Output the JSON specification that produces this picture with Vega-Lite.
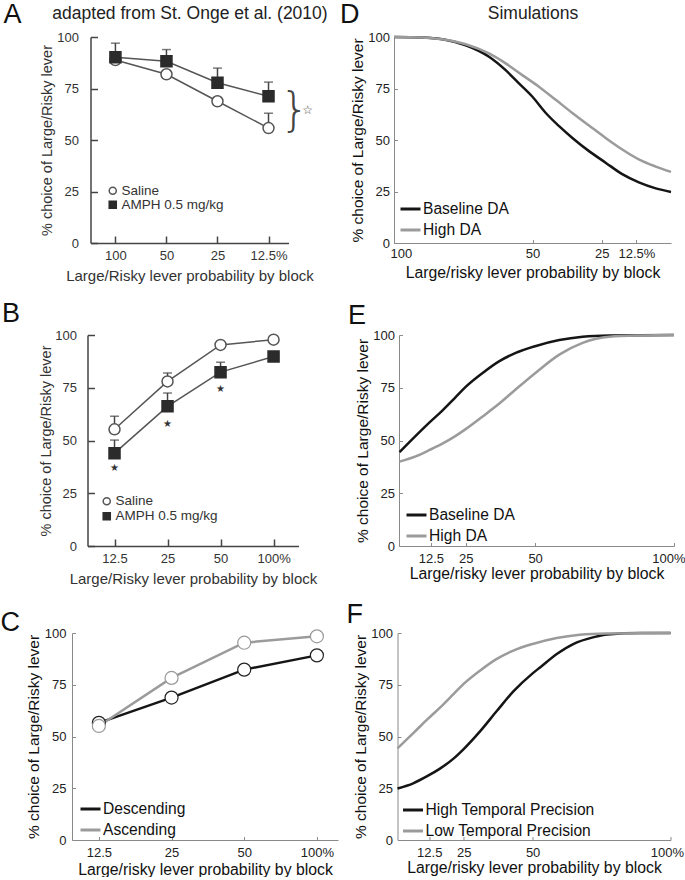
{
"$schema":"https://vega.github.io/schema/vega-lite/v6.json",
"background":"white",
"padding":{"left":0,"top":0,"right":0,"bottom":0},
"config":{"view":{"stroke":null},"font":"Liberation Sans",
 "axis":{"grid":false,"titleFontWeight":"normal","labelFont":"Liberation Sans","titleFont":"Liberation Sans","labelOverlap":false},
 "legend":{"labelFont":"Liberation Sans","labelLimit":300},
 "title":{"font":"Liberation Sans","fontWeight":"normal","color":"#111","anchor":"start","frame":"group","fontSize":27}},
"datasets":{
 "a":[
  {"block":"100","group":"Saline","value":88.8,"err":null},
  {"block":"50","group":"Saline","value":81.9,"err":null},
  {"block":"25","group":"Saline","value":68.8,"err":null},
  {"block":"12.5%","group":"Saline","value":55.8,"err":63},
  {"block":"100","group":"AMPH 0.5 mg/kg","value":90.2,"err":97},
  {"block":"50","group":"AMPH 0.5 mg/kg","value":88.2,"err":93.9},
  {"block":"25","group":"AMPH 0.5 mg/kg","value":77.8,"err":84.9},
  {"block":"12.5%","group":"AMPH 0.5 mg/kg","value":71.2,"err":78.1}
 ],
 "b":[
  {"block":"12.5","group":"Saline","value":55.3,"err":61.5},
  {"block":"25","group":"Saline","value":78,"err":82},
  {"block":"50","group":"Saline","value":95.3,"err":null},
  {"block":"100%","group":"Saline","value":97.8,"err":null},
  {"block":"12.5","group":"AMPH 0.5 mg/kg","value":44,"err":50.2},
  {"block":"25","group":"AMPH 0.5 mg/kg","value":66.2,"err":72.5},
  {"block":"50","group":"AMPH 0.5 mg/kg","value":82.4,"err":87.1},
  {"block":"100%","group":"AMPH 0.5 mg/kg","value":89.8,"err":null}
 ],
 "bstars":[
  {"block":"12.5","value":37},
  {"block":"25","value":58},
  {"block":"50","value":74.5}
 ],
 "c":[
  {"block":"12.5","series":"Descending","value":56.6},
  {"block":"25","series":"Descending","value":68.8},
  {"block":"50","series":"Descending","value":82.3},
  {"block":"100%","series":"Descending","value":89.2},
  {"block":"12.5","series":"Ascending","value":55.1},
  {"block":"25","series":"Ascending","value":78.3},
  {"block":"50","series":"Ascending","value":95.3},
  {"block":"100%","series":"Ascending","value":98.4}
 ],
 "d":[
  {"series":"Baseline DA","p":100,"val":100},{"series":"Baseline DA","p":90,"val":99.8},{"series":"Baseline DA","p":82,"val":98.8},{"series":"Baseline DA","p":74.1,"val":96},{"series":"Baseline DA","p":65.7,"val":90.4},{"series":"Baseline DA","p":59.7,"val":83.9},{"series":"Baseline DA","p":54.9,"val":77.5},{"series":"Baseline DA","p":50.1,"val":71.1},{"series":"Baseline DA","p":45.2,"val":63.1},{"series":"Baseline DA","p":40.4,"val":56.7},{"series":"Baseline DA","p":35.6,"val":51},{"series":"Baseline DA","p":29.6,"val":44.6},{"series":"Baseline DA","p":23.6,"val":39},{"series":"Baseline DA","p":17.6,"val":33.4},{"series":"Baseline DA","p":11.6,"val":29.4},{"series":"Baseline DA","p":5.5,"val":26.5},{"series":"Baseline DA","p":0,"val":24.8},
  {"series":"High DA","p":100,"val":100},{"series":"High DA","p":90,"val":99.8},{"series":"High DA","p":82,"val":98.8},{"series":"High DA","p":74.1,"val":96.5},{"series":"High DA","p":65.7,"val":92},{"series":"High DA","p":59.7,"val":87.2},{"series":"High DA","p":53.7,"val":81.5},{"series":"High DA","p":47.7,"val":75.9},{"series":"High DA","p":41.6,"val":69.5},{"series":"High DA","p":35.6,"val":63.1},{"series":"High DA","p":29.6,"val":57},{"series":"High DA","p":23.6,"val":51},{"series":"High DA","p":17.6,"val":45.4},{"series":"High DA","p":11.6,"val":40.6},{"series":"High DA","p":5.5,"val":37.1},{"series":"High DA","p":0,"val":34.5}
 ],
 "e":[
  {"series":"Baseline DA","p":1.2,"val":44.5},{"series":"Baseline DA","p":7,"val":52.2},{"series":"Baseline DA","p":12,"val":58.6},{"series":"Baseline DA","p":16.6,"val":64.2},{"series":"Baseline DA","p":21.4,"val":70.6},{"series":"Baseline DA","p":25,"val":75.4},{"series":"Baseline DA","p":31,"val":81.9},{"series":"Baseline DA","p":37,"val":87.5},{"series":"Baseline DA","p":43,"val":91.5},{"series":"Baseline DA","p":50,"val":94.7},{"series":"Baseline DA","p":58.7,"val":97.6},{"series":"Baseline DA","p":67.1,"val":99.2},{"series":"Baseline DA","p":76.7,"val":99.8},{"series":"Baseline DA","p":100,"val":100},
  {"series":"High DA","p":1.2,"val":40},{"series":"High DA","p":7,"val":42.5},{"series":"High DA","p":12,"val":45.5},{"series":"High DA","p":16.6,"val":48.5},{"series":"High DA","p":21.4,"val":52.2},{"series":"High DA","p":25,"val":55.4},{"series":"High DA","p":31,"val":61.3},{"series":"High DA","p":37,"val":67.4},{"series":"High DA","p":43,"val":74.2},{"series":"High DA","p":50,"val":81.9},{"series":"High DA","p":58.7,"val":90.7},{"series":"High DA","p":67.1,"val":96.3},{"series":"High DA","p":76.7,"val":99.2},{"series":"High DA","p":88.7,"val":99.8},{"series":"High DA","p":100,"val":100}
 ],
 "f":[
  {"series":"High Temporal Precision","p":1,"val":24.9},{"series":"High Temporal Precision","p":6.7,"val":27.4},{"series":"High Temporal Precision","p":11.6,"val":30.7},{"series":"High Temporal Precision","p":16.4,"val":34.5},{"series":"High Temporal Precision","p":21.3,"val":39.3},{"series":"High Temporal Precision","p":24.9,"val":43.8},{"series":"High Temporal Precision","p":31,"val":52.6},{"series":"High Temporal Precision","p":37,"val":62.3},{"series":"High Temporal Precision","p":43.1,"val":71.9},{"series":"High Temporal Precision","p":50,"val":80.5},{"series":"High Temporal Precision","p":52.8,"val":83.5},{"series":"High Temporal Precision","p":58.9,"val":90},{"series":"High Temporal Precision","p":64.9,"val":94.8},{"series":"High Temporal Precision","p":72.2,"val":98},{"series":"High Temporal Precision","p":77,"val":99.3},{"series":"High Temporal Precision","p":89.2,"val":100},{"series":"High Temporal Precision","p":100,"val":100},
  {"series":"Low Temporal Precision","p":1,"val":44.3},{"series":"Low Temporal Precision","p":7,"val":52},{"series":"Low Temporal Precision","p":12,"val":58.5},{"series":"Low Temporal Precision","p":16.6,"val":64.2},{"series":"Low Temporal Precision","p":21.4,"val":70.6},{"series":"Low Temporal Precision","p":25,"val":75.4},{"series":"Low Temporal Precision","p":31,"val":81.9},{"series":"Low Temporal Precision","p":37,"val":87.5},{"series":"Low Temporal Precision","p":43,"val":91.5},{"series":"Low Temporal Precision","p":50,"val":94.7},{"series":"Low Temporal Precision","p":58.7,"val":97.6},{"series":"Low Temporal Precision","p":67.1,"val":99.2},{"series":"Low Temporal Precision","p":76.7,"val":99.8},{"series":"Low Temporal Precision","p":100,"val":100}
 ]
},
"columns":1,
"spacing":15,
"resolve":{"scale":{"color":"independent","shape":"independent","fill":"independent","stroke":"independent"},"legend":{"color":"independent","shape":"independent","fill":"independent","stroke":"independent"}},
"concat":[
 {"hconcat":[
  {"width":216.5,"height":206,
   "title":{"text":"A","dx":-68.5,"offset":-24.5},
   "data":{"name":"a"},
   "layer":[
    {"transform":[{"filter":"datum.err != null"}],
     "mark":{"type":"rule","color":"#444","strokeWidth":1.5},
     "encoding":{
      "x":{"field":"block","type":"ordinal","scale":{"type":"point","domain":["100","50","25","12.5%"],"range":[18.5,216.5],"padding":0.44,"align":0.555},"axis":null},
      "y":{"field":"value","type":"quantitative","scale":{"domain":[0,100]},"axis":null},
      "y2":{"field":"err"}}},
    {"transform":[{"filter":"datum.err != null"}],
     "mark":{"type":"tick","orient":"horizontal","color":"#444","thickness":1.5,"size":9},
     "encoding":{
      "x":{"field":"block","type":"ordinal","scale":{"type":"point","domain":["100","50","25","12.5%"],"range":[18.5,216.5],"padding":0.44,"align":0.555},"axis":null},
      "y":{"field":"err","type":"quantitative","scale":{"domain":[0,100]},"axis":null}}},
    {"mark":{"type":"line","color":"#555","strokeWidth":1.5},
     "encoding":{
      "x":{"field":"block","type":"ordinal","scale":{"type":"point","domain":["100","50","25","12.5%"],"range":[18.5,216.5],"padding":0.44,"align":0.555},
       "axis":{"orient":"bottom","title":"Large/Risky lever probability by block","titleFontSize":15,"titleColor":"#333","labelFontSize":13,"labelColor":"#333","labelAngle":0,"domainColor":"#444","domainWidth":1.5,"tickColor":"#444","tickWidth":1.5,"tickSize":-7,"labelPadding":13,"titlePadding":6.5}},
      "y":{"field":"value","type":"quantitative","scale":{"domain":[0,100]},
       "axis":{"offset":-18.5,"values":[0,25,50,75,100],"title":"% choice of Large/Risky lever","titleFontSize":14.5,"titleColor":"#333","labelFontSize":13,"labelColor":"#333","domainColor":"#444","domainWidth":1.5,"tickColor":"#444","tickWidth":1.5,"tickSize":-7,"labelPadding":19,"titlePadding":2}},
      "detail":{"field":"group"}}},
    {"mark":{"type":"point","size":121,"strokeWidth":1.5,"opacity":1},
     "encoding":{
      "x":{"field":"block","type":"ordinal","scale":{"type":"point","domain":["100","50","25","12.5%"],"range":[18.5,216.5],"padding":0.44,"align":0.555},
       "axis":{"orient":"top","title":"adapted from St. Onge et al. (2010)","titleFontSize":17.5,"titleColor":"#222","labels":false,"ticks":false,"domain":false,"labelPadding":0,"titlePadding":15}},
      "y":{"field":"value","type":"quantitative","scale":{"domain":[0,100]},"axis":null},
      "shape":{"field":"group","type":"nominal","scale":{"domain":["Saline","AMPH 0.5 mg/kg"],"range":["circle","square"]},"legend":{"orient":"none","legendX":34,"legendY":147,"title":null,"labelFontSize":13.5,"labelColor":"#333","symbolSize":50,"rowPadding":-3,"labelOffset":2,"padding":0}},
      "fill":{"field":"group","type":"nominal","scale":{"domain":["Saline","AMPH 0.5 mg/kg"],"range":["white","#2b2b2b"]},"legend":{"orient":"none","legendX":34,"legendY":147,"title":null,"labelFontSize":13.5,"labelColor":"#333","symbolSize":50,"rowPadding":-3,"labelOffset":2,"padding":0}},
      "stroke":{"field":"group","type":"nominal","scale":{"domain":["Saline","AMPH 0.5 mg/kg"],"range":["#555","#2b2b2b"]},"legend":{"orient":"none","legendX":34,"legendY":147,"title":null,"labelFontSize":13.5,"labelColor":"#333","symbolSize":50,"rowPadding":-3,"labelOffset":2,"padding":0}}}},
    {"data":{"values":[{"block":"12.5%","value":64,"sym":"}"}]},
     "mark":{"type":"text","dx":26,"fontSize":46,"fontWeight":200,"fill":"#444","baseline":"middle","align":"center","font":"DejaVu Sans"},
     "encoding":{
      "x":{"field":"block","type":"ordinal","scale":{"type":"point","domain":["100","50","25","12.5%"],"range":[18.5,216.5],"padding":0.44,"align":0.555},"axis":null},
      "y":{"field":"value","type":"quantitative","scale":{"domain":[0,100]},"axis":null},
      "text":{"field":"sym"}}},
    {"data":{"values":[{"block":"12.5%","value":64.5,"sym":"☆"}]},
     "mark":{"type":"text","dx":39,"fontSize":12,"fill":"#444","baseline":"middle","align":"center","font":"DejaVu Sans"},
     "encoding":{
      "x":{"field":"block","type":"ordinal","scale":{"type":"point","domain":["100","50","25","12.5%"],"range":[18.5,216.5],"padding":0.44,"align":0.555},"axis":null},
      "y":{"field":"value","type":"quantitative","scale":{"domain":[0,100]},"axis":null},
      "text":{"field":"sym"}}}
   ],
   "resolve":{"axis":{"x":"independent","y":"independent"}}},
  {"width":277,"height":206,
   "title":{"text":"D","dx":-54,"offset":-25},
   "data":{"name":"d"},
   "layer":[
    {"mark":{"type":"line","strokeWidth":2.5,"interpolate":"monotone"},
     "encoding":{
      "x":{"field":"p","type":"quantitative","scale":{"domain":[0,100],"reverse":true,"nice":false,"zero":false},
       "axis":{"orient":"bottom","values":[100,50,25,12.5],"labelExpr":"datum.value == 12.5 ? '12.5%' : '' + datum.value","title":"Large/risky lever probability by block","titleFontSize":15.8,"titleColor":"#111","labelFontSize":13,"labelColor":"#222","domainColor":"#8a8a8a","tickColor":"#8a8a8a","tickSize":-3.5,"labelPadding":8,"titlePadding":5,"labelFlush":true,"labelFlushOffset":4}},
      "y":{"field":"val","type":"quantitative","scale":{"domain":[0,100]},
       "axis":{"values":[0,25,50,75,100],"title":"% choice of Large/Risky lever","titleFontSize":15.5,"titleColor":"#111","labelFontSize":13,"labelColor":"#222","domainColor":"#8a8a8a","tickColor":"#8a8a8a","tickSize":-3.5,"labelPadding":8,"titlePadding":2}},
      "color":{"field":"series","type":"nominal","scale":{"domain":["Baseline DA","High DA"],"range":["#151515","#9b9b9b"]},
       "legend":{"orient":"none","legendX":5,"legendY":160.5,"title":null,"labelFontSize":15.6,"labelColor":"#111","symbolType":"stroke","symbolSize":400,"symbolStrokeWidth":3,"rowPadding":-1,"labelOffset":1,"padding":0}}}},
    {"mark":{"type":"line","opacity":0},
     "encoding":{
      "x":{"field":"p","type":"quantitative","scale":{"domain":[0,100],"reverse":true,"nice":false,"zero":false},
       "axis":{"orient":"top","title":"Simulations","titleFontSize":17.5,"titleColor":"#222","labels":false,"ticks":false,"domain":false,"labelPadding":0,"titlePadding":15}},
      "y":{"field":"val","type":"quantitative","scale":{"domain":[0,100]},"axis":null},
      "detail":{"field":"series"}}}
   ],
   "resolve":{"axis":{"x":"independent","y":"independent"}}}
 ],"spacing":12,
 "resolve":{"scale":{"color":"independent","shape":"independent","fill":"independent","stroke":"independent"},"legend":{"color":"independent","shape":"independent","fill":"independent","stroke":"independent"}}},
 {"hconcat":[
  {"width":226.5,"height":211,
   "title":{"text":"B","dx":-70,"offset":1.5},
   "data":{"name":"b"},
   "layer":[
    {"transform":[{"filter":"datum.err != null"}],
     "mark":{"type":"rule","color":"#444","strokeWidth":1.5},
     "encoding":{
      "x":{"field":"block","type":"ordinal","scale":{"type":"point","domain":["12.5","25","50","100%"],"range":[15.5,226.5],"padding":0.49,"align":0.52},"axis":null},
      "y":{"field":"value","type":"quantitative","scale":{"domain":[0,100]},"axis":null},
      "y2":{"field":"err"}}},
    {"transform":[{"filter":"datum.err != null"}],
     "mark":{"type":"tick","orient":"horizontal","color":"#444","thickness":1.5,"size":9},
     "encoding":{
      "x":{"field":"block","type":"ordinal","scale":{"type":"point","domain":["12.5","25","50","100%"],"range":[15.5,226.5],"padding":0.49,"align":0.52},"axis":null},
      "y":{"field":"err","type":"quantitative","scale":{"domain":[0,100]},"axis":null}}},
    {"mark":{"type":"line","color":"#555","strokeWidth":1.5},
     "encoding":{
      "x":{"field":"block","type":"ordinal","scale":{"type":"point","domain":["12.5","25","50","100%"],"range":[15.5,226.5],"padding":0.49,"align":0.52},
       "axis":{"orient":"bottom","title":"Large/Risky lever probability by block","titleFontSize":15,"titleColor":"#333","labelFontSize":13,"labelColor":"#333","labelAngle":0,"domainColor":"#444","domainWidth":1.5,"tickColor":"#444","tickWidth":1.5,"tickSize":-7,"labelPadding":13,"titlePadding":6}},
      "y":{"field":"value","type":"quantitative","scale":{"domain":[0,100]},
       "axis":{"offset":-15.5,"values":[0,25,50,75,100],"title":"% choice of Large/Risky lever","titleFontSize":14.5,"titleColor":"#333","labelFontSize":13,"labelColor":"#333","domainColor":"#444","domainWidth":1.5,"tickColor":"#444","tickWidth":1.5,"tickSize":-7,"labelPadding":18,"titlePadding":1}},
      "detail":{"field":"group"}}},
    {"mark":{"type":"point","size":121,"strokeWidth":1.5,"opacity":1},
     "encoding":{
      "x":{"field":"block","type":"ordinal","scale":{"type":"point","domain":["12.5","25","50","100%"],"range":[15.5,226.5],"padding":0.49,"align":0.52},"axis":null},
      "y":{"field":"value","type":"quantitative","scale":{"domain":[0,100]},"axis":null},
      "shape":{"field":"group","type":"nominal","scale":{"domain":["Saline","AMPH 0.5 mg/kg"],"range":["circle","square"]},"legend":{"orient":"none","legendX":28,"legendY":159.5,"title":null,"labelFontSize":13.5,"labelColor":"#333","symbolSize":50,"rowPadding":0,"labelOffset":2,"padding":0}},
      "fill":{"field":"group","type":"nominal","scale":{"domain":["Saline","AMPH 0.5 mg/kg"],"range":["white","#2b2b2b"]},"legend":{"orient":"none","legendX":28,"legendY":159.5,"title":null,"labelFontSize":13.5,"labelColor":"#333","symbolSize":50,"rowPadding":0,"labelOffset":2,"padding":0}},
      "stroke":{"field":"group","type":"nominal","scale":{"domain":["Saline","AMPH 0.5 mg/kg"],"range":["#555","#2b2b2b"]},"legend":{"orient":"none","legendX":28,"legendY":159.5,"title":null,"labelFontSize":13.5,"labelColor":"#333","symbolSize":50,"rowPadding":0,"labelOffset":2,"padding":0}}}},
    {"data":{"name":"bstars"},
     "mark":{"type":"text","text":"★","fontSize":10,"fill":"#333","baseline":"middle","align":"center","font":"DejaVu Sans"},
     "encoding":{
      "x":{"field":"block","type":"ordinal","scale":{"type":"point","domain":["12.5","25","50","100%"],"range":[15.5,226.5],"padding":0.49,"align":0.52},"axis":null},
      "y":{"field":"value","type":"quantitative","scale":{"domain":[0,100]},"axis":null}}}
   ],
   "resolve":{"axis":{"x":"independent","y":"independent"}}},
  {"width":275,"height":211,
   "title":{"text":"E","dx":-51,"offset":-0.5},
   "data":{"name":"e"},
   "mark":{"type":"line","strokeWidth":2.5,"interpolate":"monotone"},
   "encoding":{
    "x":{"field":"p","type":"quantitative","scale":{"domain":[1,100],"nice":false,"zero":false},
     "axis":{"values":[12.5,25,50,100],"labelExpr":"datum.value == 100 ? '100%' : '' + datum.value","title":"Large/risky lever probability by block","titleFontSize":15.8,"titleColor":"#111","labelFontSize":13,"labelColor":"#222","domainColor":"#8a8a8a","tickColor":"#8a8a8a","tickSize":-3.5,"labelPadding":10,"titlePadding":1,"labelFlush":true,"labelFlushOffset":11}},
    "y":{"field":"val","type":"quantitative","scale":{"domain":[0,100]},
     "axis":{"values":[0,25,50,75,100],"title":"% choice of Large/Risky lever","titleFontSize":15.5,"titleColor":"#111","labelFontSize":13,"labelColor":"#222","domainColor":"#8a8a8a","tickColor":"#8a8a8a","tickSize":-3.5,"labelPadding":8,"titlePadding":2}},
    "color":{"field":"series","type":"nominal","scale":{"domain":["Baseline DA","High DA"],"range":["#151515","#9b9b9b"]},
     "legend":{"orient":"none","legendX":6,"legendY":168.5,"title":null,"labelFontSize":15.6,"labelColor":"#111","symbolType":"stroke","symbolSize":400,"symbolStrokeWidth":3,"rowPadding":-3,"labelOffset":1,"padding":0}}}}
 ],"spacing":31,
 "resolve":{"scale":{"color":"independent","shape":"independent","fill":"independent","stroke":"independent"},"legend":{"color":"independent","shape":"independent","fill":"independent","stroke":"independent"}}},
 {"hconcat":[
  {"width":266,"height":207,
   "title":{"text":"C","dx":-71.5,"offset":-10},
   "data":{"name":"c"},
   "layer":[
    {"mark":{"type":"line","strokeWidth":2.5},
     "encoding":{
      "x":{"field":"block","type":"ordinal","scale":{"type":"point","domain":["12.5","25","50","100%"],"padding":0.33,"align":0.56},
       "axis":{"orient":"bottom","title":"Large/risky lever probability by block","titleFontSize":15.8,"titleColor":"#111","labelFontSize":13,"labelColor":"#222","labelAngle":0,"domainColor":"#8a8a8a","tickColor":"#8a8a8a","tickSize":-3.5,"labelPadding":9.5,"titlePadding":3}},
      "y":{"field":"value","type":"quantitative","scale":{"domain":[0,100]},
       "axis":{"values":[0,25,50,75,100],"title":"% choice of Large/Risky lever","titleFontSize":15.5,"titleColor":"#111","labelFontSize":13,"labelColor":"#222","domainColor":"#8a8a8a","tickColor":"#8a8a8a","tickSize":-3.5,"labelPadding":9.5,"titlePadding":3}},
      "color":{"field":"series","type":"nominal","scale":{"domain":["Descending","Ascending"],"range":["#151515","#9b9b9b"]},
       "legend":{"orient":"none","legendX":7,"legendY":164.5,"title":null,"labelFontSize":15.6,"labelColor":"#111","symbolType":"stroke","symbolSize":400,"symbolStrokeWidth":3,"rowPadding":-3,"labelOffset":1,"padding":0}}}},
    {"mark":{"type":"point","size":170,"strokeWidth":1.2,"fill":"white","opacity":1},
     "encoding":{
      "x":{"field":"block","type":"ordinal","scale":{"type":"point","domain":["12.5","25","50","100%"],"padding":0.33,"align":0.56},"axis":null},
      "y":{"field":"value","type":"quantitative","scale":{"domain":[0,100]},"axis":null},
      "stroke":{"field":"series","type":"nominal","scale":{"domain":["Descending","Ascending"],"range":["#222","#999"]},"legend":null}}}
   ],
   "resolve":{"axis":{"x":"independent","y":"independent"}}},
  {"width":273,"height":207,
   "title":{"text":"F","dx":-51,"offset":-2},
   "data":{"name":"f"},
   "mark":{"type":"line","strokeWidth":2.5,"interpolate":"monotone"},
   "encoding":{
    "x":{"field":"p","type":"quantitative","scale":{"domain":[1,100],"nice":false,"zero":false},
     "axis":{"values":[12.5,25,50,100],"labelExpr":"datum.value == 100 ? '100%' : '' + datum.value","title":"Large/risky lever probability by block","titleFontSize":15.8,"titleColor":"#111","labelFontSize":13,"labelColor":"#222","domainColor":"#8a8a8a","tickColor":"#8a8a8a","tickSize":-3.5,"labelPadding":10,"titlePadding":1,"labelFlush":true,"labelFlushOffset":13}},
    "y":{"field":"val","type":"quantitative","scale":{"domain":[0,100]},
     "axis":{"values":[0,25,50,75,100],"title":"% choice of Large/Risky lever","titleFontSize":15.5,"titleColor":"#111","labelFontSize":13,"labelColor":"#222","domainColor":"#8a8a8a","tickColor":"#8a8a8a","tickSize":-3.5,"labelPadding":8.5,"titlePadding":2}},
    "color":{"field":"series","type":"nominal","scale":{"domain":["High Temporal Precision","Low Temporal Precision"],"range":["#151515","#9b9b9b"]},
     "legend":{"orient":"none","legendX":4,"legendY":165.5,"title":null,"labelFontSize":15.6,"labelColor":"#111","symbolType":"stroke","symbolSize":400,"symbolStrokeWidth":3,"rowPadding":-3,"labelOffset":1,"padding":0}}}}
 ],"spacing":8.5,
 "resolve":{"scale":{"color":"independent","shape":"independent","fill":"independent","stroke":"independent"},"legend":{"color":"independent","shape":"independent","fill":"independent","stroke":"independent"}}}
]
}
